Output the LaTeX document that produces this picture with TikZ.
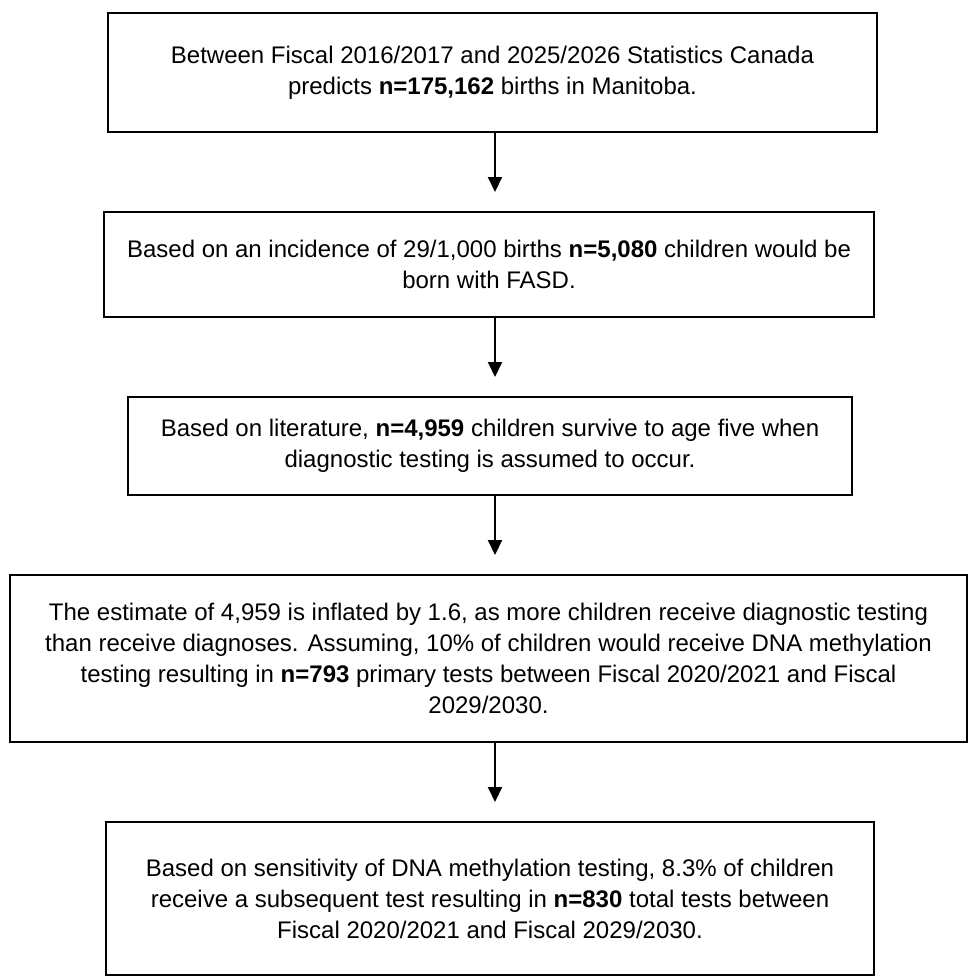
\documentclass[tikz,border=0pt]{standalone}
\usepackage{fontspec}
\setmainfont{Liberation Sans}
\usetikzlibrary{arrows.meta}
\tikzset{
  box/.style={draw=black, line width=2pt, rectangle, align=center, inner sep=0pt,
    font=\fontsize{24}{31}\selectfont},
  arr/.style={draw=black, line width=2pt, -{Triangle[width=14pt,length=15pt]}}
}
\begin{document}
\begin{tikzpicture}[x=1pt,y=-1pt]
\useasboundingbox (0,0) rectangle (968,979);
\node[box, minimum width=769pt, minimum height=119pt] (b1) at (492.5,72.5)
  {Between Fiscal 2016/2017 and 2025/2026 Statistics Canada\\
   predicts \textbf{n=175,162} births in Manitoba.};
\node[box, minimum width=770pt, minimum height=105pt] (b2) at (489,264.5)
  {Based on an incidence of 29/1,000 births \textbf{n=5,080} children would be\\
   born with FASD.};
\node[box, minimum width=724pt, minimum height=98pt] (b3) at (490,446)
  {Based on literature, \textbf{n=4,959} children survive to age five when\\
   diagnostic testing is assumed to occur.};
\node[box, minimum width=957pt, minimum height=167pt] (b4) at (488.5,658.5)
  {The estimate of 4,959 is inflated by 1.6, as more children receive diagnostic testing\\
   than receive diagnoses. Assuming, 10\% of children would receive DNA methylation\\
   testing resulting in \textbf{n=793} primary tests between Fiscal 2020/2021 and Fiscal\\
   2029/2030.};
\node[box, minimum width=768pt, minimum height=153pt] (b5) at (490,898.5)
  {Based on sensitivity of DNA methylation testing, 8.3\% of children\\
   receive a subsequent test resulting in \textbf{n=830} total tests between\\
   Fiscal 2020/2021 and Fiscal 2029/2030.};
\draw[arr] ([xshift=2.5pt]b1.south) -- ([xshift=2.5pt,yshift=19pt]b1.south |- b2.north);
\draw[arr] ([xshift=6pt]b2.south) -- ([xshift=6pt,yshift=19pt]b2.south |- b3.north);
\draw[arr] ([xshift=5pt]b3.south) -- ([xshift=5pt,yshift=19pt]b3.south |- b4.north);
\draw[arr] ([xshift=6.5pt]b4.south) -- ([xshift=6.5pt,yshift=19pt]b4.south |- b5.north);
\end{tikzpicture}
\end{document}
